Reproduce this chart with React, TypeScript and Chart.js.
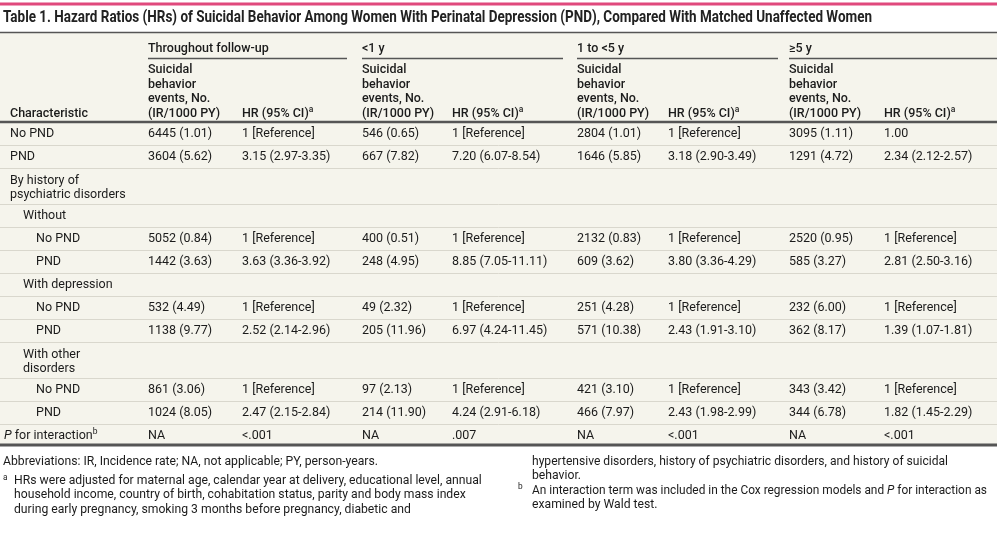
import React, { useEffect, useRef } from "react";
import { Chart, registerables } from "chart.js";
Chart.register(...registerables);

// ---------- DATA ----------
const titleText =
  "Table 1. Hazard Ratios (HRs) of Suicidal Behavior Among Women With Perinatal Depression (PND), Compared With Matched Unaffected Women";
const periods = ["Throughout follow-up", "<1 y", "1 to <5 y", "≥5 y"];
const eventsHeader = ["Suicidal", "behavior", "events, No.", "(IR/1000 PY)"];
const hrHeader = "HR (95% CI)";
const characteristicHeader = "Characteristic";

const rowLabels: string[][] = [
  ["No PND"],
  ["PND"],
  ["By history of", "psychiatric disorders"],
  ["Without"],
  ["No PND"],
  ["PND"],
  ["With depression"],
  ["No PND"],
  ["PND"],
  ["With other", "disorders"],
  ["No PND"],
  ["PND"],
  ["P for interaction"],
];
const rowIndent = [0, 0, 0, 1, 2, 2, 1, 2, 2, 1, 2, 2, -1];

const eventsFollowUp = ["6445 (1.01)", "3604 (5.62)", "", "", "5052 (0.84)", "1442 (3.63)", "", "532 (4.49)", "1138 (9.77)", "", "861 (3.06)", "1024 (8.05)", "NA"];
const hrFollowUp = ["1 [Reference]", "3.15 (2.97-3.35)", "", "", "1 [Reference]", "3.63 (3.36-3.92)", "", "1 [Reference]", "2.52 (2.14-2.96)", "", "1 [Reference]", "2.47 (2.15-2.84)", "<.001"];
const eventsUnder1 = ["546 (0.65)", "667 (7.82)", "", "", "400 (0.51)", "248 (4.95)", "", "49 (2.32)", "205 (11.96)", "", "97 (2.13)", "214 (11.90)", "NA"];
const hrUnder1 = ["1 [Reference]", "7.20 (6.07-8.54)", "", "", "1 [Reference]", "8.85 (7.05-11.11)", "", "1 [Reference]", "6.97 (4.24-11.45)", "", "1 [Reference]", "4.24 (2.91-6.18)", ".007"];
const events1to5 = ["2804 (1.01)", "1646 (5.85)", "", "", "2132 (0.83)", "609 (3.62)", "", "251 (4.28)", "571 (10.38)", "", "421 (3.10)", "466 (7.97)", "NA"];
const hr1to5 = ["1 [Reference]", "3.18 (2.90-3.49)", "", "", "1 [Reference]", "3.80 (3.36-4.29)", "", "1 [Reference]", "2.43 (1.91-3.10)", "", "1 [Reference]", "2.43 (1.98-2.99)", "<.001"];
const events5plus = ["3095 (1.11)", "1291 (4.72)", "", "", "2520 (0.95)", "585 (3.27)", "", "232 (6.00)", "362 (8.17)", "", "343 (3.42)", "344 (6.78)", "NA"];
const hr5plus = ["1.00", "2.34 (2.12-2.57)", "", "", "1 [Reference]", "2.81 (2.50-3.16)", "", "1 [Reference]", "1.39 (1.07-1.81)", "", "1 [Reference]", "1.82 (1.45-2.29)", "<.001"];

const abbreviations = "Abbreviations: IR, Incidence rate; NA, not applicable; PY, person-years.";
const footnoteA = [
  "HRs were adjusted for maternal age, calendar year at delivery, educational level, annual",
  "household income, country of birth, cohabitation status, parity and body mass index",
  "during early pregnancy, smoking 3 months before pregnancy, diabetic and",
  "hypertensive disorders, history of psychiatric disorders, and history of suicidal",
  "behavior.",
];
const footnoteB = [
  "An interaction term was included in the Cox regression models and |P| for interaction as",
  "examined by Wald test.",
];

// ---------- STYLE / LAYOUT ----------
const FONT = "Roboto, 'Noto Sans', sans-serif";
const TEXT = "#1b1b1b";
const CREAM = "#f5f4ec";
const DARK = "#555555";
const LIGHT = "#d9d7cd";
const PINK = "#e0497d";
const FS = 12.5;
const FF = 12.2;
const colX = [148, 242, 362, 452, 577, 668, 789, 884];
const groupSpan = [
  [148, 347],
  [362, 563],
  [577, 778],
  [789, 997],
];
const indentX = [10, 23, 36];
const RIGHT = 997;

type Seg = { t: string; it?: boolean; sup?: boolean };

function segFont(s: Seg, size: number, weight: string) {
  const fs = s.sup ? size * 0.68 : size;
  return `${s.it ? "italic " : ""}${weight} ${fs}px ${FONT}`;
}

function drawRich(
  ctx: CanvasRenderingContext2D,
  segs: Seg[],
  x: number,
  y: number,
  size: number,
  weight: string,
  maxW?: number
) {
  let total = 0;
  for (const s of segs) {
    ctx.font = segFont(s, size, weight);
    total += ctx.measureText(s.t).width + (s.sup ? 0.5 : 0);
  }
  const sx = maxW && total > maxW ? maxW / total : 1;
  ctx.save();
  ctx.translate(x, y);
  ctx.scale(sx, 1);
  let cx = 0;
  for (const s of segs) {
    ctx.font = segFont(s, size, weight);
    ctx.fillText(s.t, cx, s.sup ? -size * 0.33 : 0);
    cx += ctx.measureText(s.t).width + (s.sup ? 0.5 : 0);
  }
  ctx.restore();
}

function parseItalic(line: string): Seg[] {
  return line.split("|").map((t, i) => ({ t, it: i % 2 === 1 }));
}

function hline(ctx: CanvasRenderingContext2D, x1: number, x2: number, y: number, w: number, c: string) {
  ctx.strokeStyle = c;
  ctx.lineWidth = w;
  ctx.beginPath();
  ctx.moveTo(x1, y);
  ctx.lineTo(x2, y);
  ctx.stroke();
}

const tablePlugin = {
  id: "tablePlugin",
  afterDraw(chart: any) {
    const ctx: CanvasRenderingContext2D = chart.ctx;
    ctx.save();
    ctx.textBaseline = "middle";
    ctx.textAlign = "left";

    // background
    ctx.fillStyle = "#ffffff";
    ctx.fillRect(0, 0, chart.width, chart.height);
    ctx.fillStyle = CREAM;
    ctx.fillRect(0, 33, RIGHT, 413);

    // top pink line
    hline(ctx, 0, RIGHT, 4, 3, PINK);

    // title
    ctx.fillStyle = "#222";
    ctx.font = `bold 16px ${FONT}`;
    ctx.fillText(titleText, 3, 18, 869);
    hline(ctx, 0, RIGHT, 32.5, 1.5, DARK);

    // group headers
    ctx.fillStyle = TEXT;
    const HW = "500";
    periods.forEach((p, i) => {
      ctx.font = `${HW} ${FS}px ${FONT}`;
      ctx.fillText(p, groupSpan[i][0], 48.5);
      hline(ctx, groupSpan[i][0], groupSpan[i][1], 58.5, 1.5, DARK);
    });
    const subY = [70, 84.5, 99, 113.5];
    periods.forEach((_, i) => {
      ctx.font = `${HW} ${FS}px ${FONT}`;
      eventsHeader.forEach((l, j) => ctx.fillText(l, colX[i * 2], subY[j]));
      drawRich(ctx, [{ t: hrHeader }, { t: "a", sup: true }], colX[i * 2 + 1], subY[3], FS, HW);
    });
    ctx.font = `${HW} ${FS}px ${FONT}`;
    ctx.fillText(characteristicHeader, indentX[0], subY[3]);
    hline(ctx, 0, RIGHT, 122, 2.5, DARK);

    // body
    const cols = [eventsFollowUp, hrFollowUp, eventsUnder1, hrUnder1, events1to5, hr1to5, events5plus, hr5plus];
    let top = 123;
    rowLabels.forEach((lines, r) => {
      const last = r === rowLabels.length - 1;
      const h = last ? 22 : lines.length > 1 ? 36 : 23;
      const y0 = lines.length > 1 ? top + 11.5 : top + 11;
      ctx.fillStyle = TEXT;
      lines.forEach((l, k) => {
        const ly = y0 + k * 14.5;
        if (rowIndent[r] < 0) {
          drawRich(ctx, [{ t: "P", it: true }, { t: " for interaction" }, { t: "b", sup: true }], 4, ly, FS, "normal");
        } else {
          ctx.font = `normal ${FS}px ${FONT}`;
          ctx.fillText(l, indentX[rowIndent[r]], ly);
        }
      });
      ctx.font = `normal ${FS}px ${FONT}`;
      cols.forEach((c, ci) => {
        if (c[r]) ctx.fillText(c[r], colX[ci], y0);
      });
      top += h;
      if (!last) hline(ctx, 0, RIGHT, top - 0.5, 1, LIGHT);
    });
    hline(ctx, 0, RIGHT, 445, 3, DARK);

    // footnotes
    ctx.fillStyle = TEXT;
    ctx.font = `normal ${FF}px ${FONT}`;
    ctx.fillText(abbreviations, 3, 462);
    const aY = [480.5, 495, 509.5];
    drawRich(ctx, [{ t: "a", sup: true }], 3, aY[0] + 1, FF, "normal");
    ctx.font = `normal ${FF}px ${FONT}`;
    ctx.fillText(footnoteA[0], 14, aY[0], 473);
    ctx.fillText(footnoteA[1], 14, aY[1], 473);
    ctx.fillText(footnoteA[2], 14, aY[2], 473);
    ctx.fillText(footnoteA[3], 532, 461.5, 416);
    ctx.fillText(footnoteA[4], 532, 476);
    drawRich(ctx, [{ t: "b", sup: true }], 518, 491, FF, "normal");
    drawRich(ctx, parseItalic(footnoteB[0]), 532, 490.5, FF, "normal", 455);
    drawRich(ctx, parseItalic(footnoteB[1]), 532, 505, FF, "normal");

    ctx.restore();
  },
};

export default function App() {
  const ref = useRef<HTMLCanvasElement | null>(null);
  useEffect(() => {
    if (!ref.current) return;
    const chart = new Chart(ref.current, {
      type: "bar",
      data: { labels: [], datasets: [] },
      options: {
        responsive: false,
        animation: false,
        devicePixelRatio: 1,
        events: [],
        layout: { padding: 0 },
        plugins: { legend: { display: false }, tooltip: { enabled: false }, title: { display: false } },
        scales: { x: { display: false }, y: { display: false } },
      },
      plugins: [tablePlugin],
    });
    return () => chart.destroy();
  }, []);
  return (
    <div style={{ position: "fixed", left: 0, top: 0, width: 1000, height: 548, background: "#fff" }}>
      <canvas ref={ref} width={1000} height={548} style={{ display: "block", width: 1000, height: 548 }} />
    </div>
  );
}
